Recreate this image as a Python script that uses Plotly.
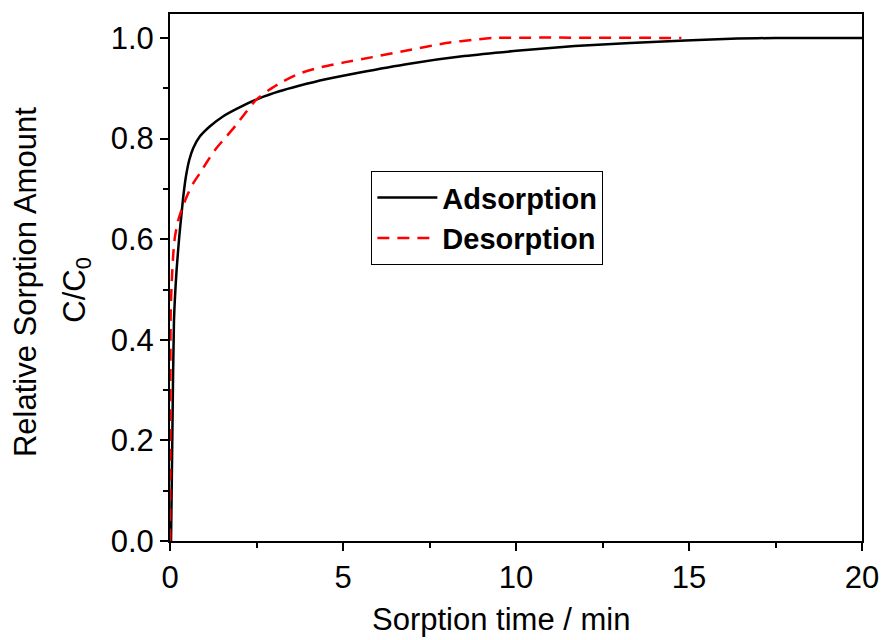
import plotly.graph_objects as go

# Adsorption (black solid)
ads_t = [0.03, 0.07, 0.115, 0.191, 0.268, 0.335, 0.383, 0.459, 0.555, 0.67, 0.861, 1.148, 1.53, 2.01, 2.58,
         3.16, 3.73, 4.5, 5.45, 6.92, 8.5, 10.1, 11.7, 13.3, 14.9, 16.4, 17.5, 20.0]
ads_c = [0.0, 0.22, 0.439, 0.539, 0.605, 0.652, 0.684, 0.724, 0.757, 0.781, 0.804, 0.824, 0.844, 0.862, 0.880,
         0.894, 0.905, 0.918, 0.931, 0.949, 0.964, 0.975, 0.984, 0.990, 0.995, 0.999, 1.0, 1.0]

# Desorption (red dashed)
des_t = [0.0, 0.01, 0.02, 0.048, 0.096, 0.143, 0.239, 0.335, 0.478, 0.67, 0.861, 1.10, 1.34, 1.63, 1.91,
         2.20, 2.49, 2.87, 3.25, 3.73, 4.30, 5.07, 5.85, 6.92, 7.98, 8.84, 9.35, 14.78]
des_c = [0.0, 0.2, 0.453, 0.512, 0.572, 0.605, 0.638, 0.658, 0.684, 0.711, 0.731, 0.757, 0.781, 0.804, 0.827,
         0.853, 0.877, 0.897, 0.913, 0.929, 0.941, 0.952, 0.962, 0.976, 0.990, 0.997, 1.0, 1.0]

x_ticks = [0, 5, 10, 15, 20]
y_ticks = [0.0, 0.2, 0.4, 0.6, 0.8, 1.0]
y_tick_labels = ["0.0", "0.2", "0.4", "0.6", "0.8", "1.0"]

FONT = "Arial, Liberation Sans, sans-serif"
FS = 31

fig = go.Figure()
fig.add_trace(go.Scatter(x=ads_t, y=ads_c, mode="lines", name="<b>Adsorption</b>",
                         line=dict(color="black", width=2.5, shape="spline", smoothing=0.6)))
fig.add_trace(go.Scatter(x=des_t, y=des_c, mode="lines", name="<b>Desorption</b>",
                         line=dict(color="#ff0000", width=2.5, dash="12px,8px", shape="spline", smoothing=0.6)))

fig.update_layout(
    width=891, height=640,
    margin=dict(l=170, r=23, t=14, b=99),
    paper_bgcolor="white", plot_bgcolor="white",
    font=dict(family=FONT, size=FS, color="black"),
    showlegend=True,
    legend=dict(x=0.291, y=0.702, xanchor="left", yanchor="top",
                bgcolor="white", bordercolor="black", borderwidth=1,
                font=dict(family=FONT, size=29, color="black"),
                tracegroupgap=0, itemwidth=60),
    annotations=[
        dict(text="Relative Sorption Amount", xref="paper", yref="paper",
             x=(24 - 170) / 697, y=(541 - 282) / 527, xanchor="center", yanchor="middle",
             textangle=-90, showarrow=False, font=dict(family=FONT, size=FS, color="black")),
        dict(text="C/C<sub>0</sub>", xref="paper", yref="paper",
             x=(76 - 170) / 697, y=(541 - 290) / 527, xanchor="center", yanchor="middle",
             textangle=-90, showarrow=False, font=dict(family=FONT, size=FS, color="black")),
        dict(text="Sorption time / min", xref="paper", yref="paper",
             x=(503 - 170) / 697, y=(541 - 619) / 527, xanchor="center", yanchor="middle",
             showarrow=False, font=dict(family=FONT, size=FS, color="black")),
    ],
)
fig.update_xaxes(
    range=[0, 20], tickvals=x_ticks, ticktext=[str(v) for v in x_ticks],
    showline=True, linecolor="black", linewidth=2, mirror=True,
    ticks="outside", ticklen=8, tickwidth=2, tickcolor="black",
    minor=dict(dtick=2.5, ticks="outside", ticklen=5, tickwidth=2, tickcolor="black"),
    showgrid=False, zeroline=False,
    tickfont=dict(size=FS),
)
fig.update_yaxes(
    range=[0, 1.0477], tickvals=y_ticks, ticktext=y_tick_labels,
    showline=True, linecolor="black", linewidth=2, mirror=True,
    ticks="outside", ticklen=8, tickwidth=2, tickcolor="black",
    minor=dict(dtick=0.1, ticks="outside", ticklen=5, tickwidth=2, tickcolor="black"),
    showgrid=False, zeroline=False,
    tickfont=dict(size=FS),
)

fig.write_html("out.html")
